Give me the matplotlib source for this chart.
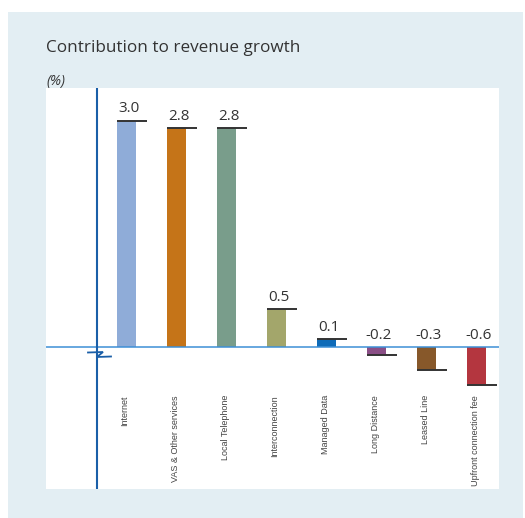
import matplotlib
matplotlib.use("Agg")
import matplotlib.pyplot as plt
from matplotlib.patches import Rectangle

# ---- data ----
categories = ["Internet", "VAS & Other services", "Local Telephone", "Interconnection",
              "Managed Data", "Long Distance", "Leased Line", "Upfront connection fee"]
values = [3.0, 2.9, 2.9, 0.5, 0.1, -0.1, -0.3, -0.5]          # bar heights
value_labels = ["3.0", "2.8", "2.8", "0.5", "0.1", "-0.2", "-0.3", "-0.6"]
colors = ["#8facd8", "#c57418", "#799d8b", "#a3a66b", "#0e6bb8", "#8a4f86", "#87582a", "#b4363f"]

W, H = 525, 518
fig = plt.figure(figsize=(W / 100, H / 100), dpi=100, facecolor="white")

# light-blue panel
fig.patches.append(Rectangle((8 / W, 0), (523 - 8) / W, (518 - 12) / H,
                             transform=fig.transFigure, facecolor="#e3eef3",
                             edgecolor="none", zorder=-5))

ax_l, ax_r, ax_t, ax_b = 46, 499, 88, 489
ax = fig.add_axes([ax_l / W, (H - ax_b) / H, (ax_r - ax_l) / W, (ax_b - ax_t) / H])
ax.set_zorder(2)
ax.set_facecolor("white")

ppu = 75.5  # pixels per unit
zero_px = 347
ax.set_ylim(-(ax_b - zero_px) / ppu, (zero_px - ax_t) / ppu)
x0_px, step = 126.5, 50.0
ax.set_xlim((ax_l - x0_px) / step, (ax_r - x0_px) / step)
for s in ax.spines.values():
    s.set_visible(False)
ax.set_xticks([])
ax.set_yticks([])

font_main = ["Open Sans", "DejaVu Sans"]
font_cat = ["Liberation Sans Narrow", "Liberation Sans", "DejaVu Sans"]

bw = 19 / step
xs = list(range(len(categories)))
ax.bar(xs, values, width=bw, color=colors, zorder=2)

# zero line and y axis
ax.axhline(0, color="#3d8fd6", lw=1.1, zorder=3)
yaxis_x = (97 - x0_px) / step
ax.axvline(yaxis_x, color="#1a5fa8", lw=1.5, zorder=3)

# axis break zigzag
bx = [(88 - x0_px) / step, (103 - x0_px) / step, (97 - x0_px) / step, (111 - x0_px) / step]
by = [-(352.5 - zero_px) / ppu, -(352 - zero_px) / ppu, -(357 - zero_px) / ppu, -(356.5 - zero_px) / ppu]
ax.plot(bx, by, color="#1a5fa8", lw=1.3, zorder=4, solid_joinstyle="miter")

for i, (v, lab) in enumerate(zip(values, value_labels)):
    left = i - bw / 2
    ax.plot([left, left + 30 / step], [v, v], color="#333333", lw=1.4, zorder=4,
            solid_capstyle="butt")
    ly = v if v > 0 else 0
    ax.annotate(lab, (i + 0.05, ly), xytext=(0, 3), textcoords="offset points",
                ha="center", va="bottom", fontsize=11, color="#333333",
                family=font_main)
    ax.text(i - 0.03, -(395 - zero_px) / ppu, categories[i], rotation=90,
            ha="center", va="top", fontsize=6.5, color="#444444", family=font_cat)

fig.text(46 / W, 1 - 48 / H, "Contribution to revenue growth", ha="left", va="center",
         fontsize=12.3, color="#333333", family=font_main)
fig.text(46 / W, 1 - 81 / H, "(%)", ha="left", va="center", fontsize=10,
         style="italic", color="#333333", family=font_main)

fig.savefig("out.png", dpi=100, facecolor=fig.get_facecolor())
